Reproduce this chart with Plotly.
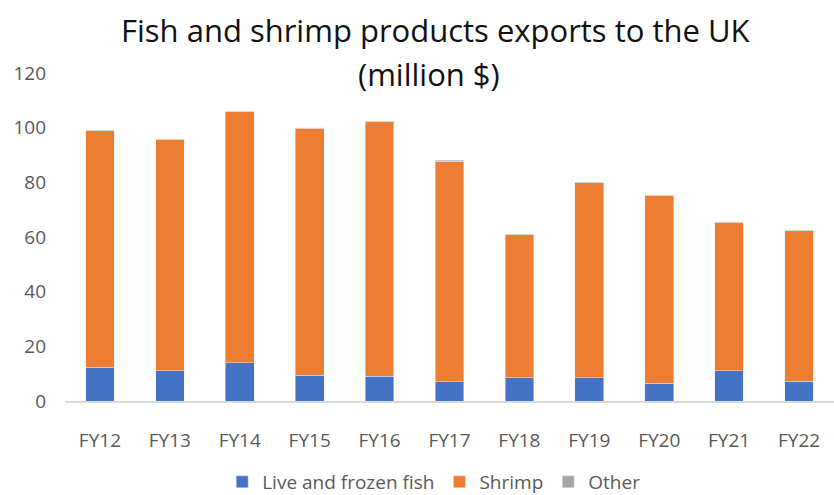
import plotly.graph_objects as go

years = ["FY12", "FY13", "FY14", "FY15", "FY16", "FY17", "FY18", "FY19", "FY20", "FY21", "FY22"]
fish = [12.3, 11.0, 14.0, 9.5, 9.0, 7.0, 8.5, 8.5, 6.5, 11.0, 7.3]
shrimp = [86.5, 84.8, 91.8, 90.3, 93.2, 80.8, 52.3, 71.3, 68.8, 54.4, 55.0]
other = [0.2, 0.2, 0.2, 0.2, 0.2, 0.2, 0.2, 0.2, 0.2, 0.2, 0.2]
title_lines = ["Fish and shrimp products exports to the UK", "(million $)"]

fig = go.Figure()
fig.add_trace(go.Bar(x=years, y=fish, name="Live and frozen fish", marker_color="#4472C4"))
fig.add_trace(go.Bar(x=years, y=shrimp, name="Shrimp", marker_color="#ED7D31"))
fig.add_trace(go.Bar(x=years, y=other, name="Other", marker_color="#A5A5A5"))

fig.update_layout(
    barmode="stack",
    bargap=0.59,
    width=834, height=495,
    margin=dict(l=65, r=0, t=73, b=94, autoexpand=False),
    paper_bgcolor="white", plot_bgcolor="white",
    font=dict(family="Open Sans", color="#595959", size=19),
    legend=dict(orientation="h", x=0.52, xanchor="center", xref="container",
                y=(495 - 482) / 495, yanchor="middle", yref="container",
                font=dict(size=19, color="#595959"), traceorder="normal", itemwidth=30),
    showlegend=True,
)
for line, ypix, xpix in zip(title_lines, [30, 74], [435, 429]):
    fig.add_annotation(text=line, xref="paper", yref="paper",
                       x=(xpix - 65) / 769, y=1 + (73 - ypix) / 328,
                       xanchor="center", yanchor="middle", showarrow=False,
                       font=dict(family="Open Sans", size=31, color="#111111"))
fig.update_xaxes(showline=True, linecolor="#d9d9d9", linewidth=1.5, ticks="", automargin=False,
                 showgrid=False, ticklabelstandoff=21, tickfont=dict(size=19, color="#595959"))
fig.update_yaxes(range=[0, 120], dtick=20, showgrid=False, showline=False, zeroline=False,
                 automargin=False,
                 ticklabelstandoff=18, tickfont=dict(size=19, color="#595959"))

fig.write_html("out.html")
